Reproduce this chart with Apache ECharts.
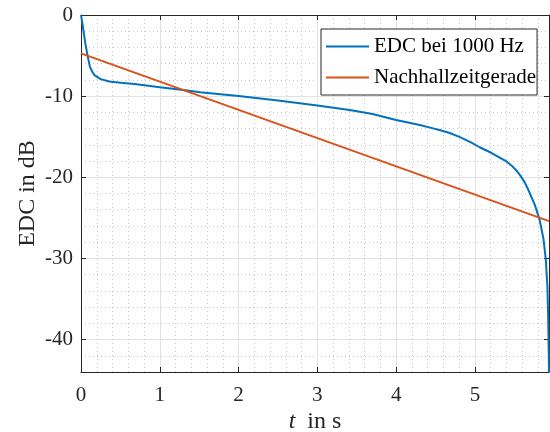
<!DOCTYPE html>
<html>
<head>
<meta charset="utf-8">
<script src="https://cdn.jsdelivr.net/npm/echarts@6/dist/echarts.min.js"></script>
<style>
  html, body { margin: 0; padding: 0; background: #ffffff; }
  #chart { width: 550px; height: 432px; }
</style>
</head>
<body>
<div id="chart"></div>
<script>
// Energy decay curve (Schroeder integration) at 1000 Hz
const timeS = [0, 0.01, 0.02, 0.03, 0.055, 0.085, 0.114, 0.14, 0.17, 0.25, 0.36, 0.5, 0.68,
  1.0, 1.3, 1.51, 2.0, 2.5, 3.0, 3.41, 3.7, 4.0, 4.3, 4.47, 4.56, 4.68, 4.81, 4.95, 5.06,
  5.2, 5.32, 5.4, 5.47, 5.52, 5.57, 5.63, 5.68, 5.76, 5.82, 5.87, 5.90, 5.92, 5.93, 5.935, 5.94];
const edcDb = [0, -0.6, -1.2, -1.85, -3.5, -5.1, -6.4, -6.95, -7.4, -7.9, -8.2, -8.35, -8.5,
  -8.9, -9.25, -9.53, -9.99, -10.55, -11.14, -11.7, -12.2, -12.95, -13.55, -13.97, -14.2,
  -14.55, -15.05, -15.7, -16.3, -16.95, -17.6, -18.05, -18.6, -19.1, -19.7, -20.6, -21.6,
  -23.4, -25.2, -27.6, -30.2, -33.5, -37.5, -40.5, -44];

// Regression line used for the reverberation time
const fitTimeS = [0, 5.94];
const fitDb = [-4.73, -25.4];

const seriesNames = ['EDC bei 1000 Hz', 'Nachhallzeitgerade'];
const xRange = [0, 5.94];
const yRange = [-44, 0];

const FONT = '"Liberation Serif", "DejaVu Serif", serif';
const INK = '#262626';
const MAJOR_GRID = '#e2e2e2';
const MINOR_GRID = '#c8c8c8';
const TICK_SIZE = 21;
const NAME_SIZE = 24;

const pairs = (xs, ys) => xs.map((x, i) => [x, ys[i]]);

const minorAxisCommon = {
  type: 'value',
  axisLine: { show: false },
  axisTick: { show: false },
  axisLabel: { show: false },
  splitLine: { show: true, lineStyle: { color: MINOR_GRID, width: 1, type: [1, 3] } }
};

const boxAxis = (extra) => Object.assign({
  type: 'value',
  axisLine: { show: true, onZero: false, lineStyle: { color: INK, width: 1 } },
  axisTick: { show: true, inside: true, length: 5, lineStyle: { color: INK } },
  axisLabel: { show: false },
  splitLine: { show: false }
}, extra);

const chart = echarts.init(document.getElementById('chart'), null, { renderer: 'canvas' });
chart.setOption({
  animation: false,
  backgroundColor: '#ffffff',
  grid: { left: 81, top: 15, width: 468, height: 357, containLabel: false, outerBoundsMode: 'none' },
  xAxis: [
    Object.assign({ min: xRange[0], max: xRange[1], interval: 0.2, position: 'bottom' }, minorAxisCommon),
    boxAxis({
      min: xRange[0], max: xRange[1], interval: 1, position: 'bottom',
      axisLabel: { show: true, showMaxLabel: false, margin: 13, color: INK, fontFamily: FONT, fontSize: TICK_SIZE },
      splitLine: { show: true, lineStyle: { color: MAJOR_GRID, width: 1 } },
      name: '{it|t}  in s',
      nameLocation: 'middle',
      nameGap: 38,
      nameMoveOverlap: false,
      nameTextStyle: {
        color: INK, fontFamily: FONT, fontSize: NAME_SIZE,
        rich: { it: { fontStyle: 'italic', fontFamily: FONT, fontSize: NAME_SIZE, color: INK } }
      }
    }),
    boxAxis({ min: xRange[0], max: xRange[1], interval: 1, position: 'top' })
  ],
  yAxis: [
    Object.assign({ min: yRange[0], max: yRange[1], interval: 2, position: 'left' }, minorAxisCommon),
    boxAxis({
      min: yRange[0], max: yRange[1], splitNumber: 5, position: 'left',
      axisLabel: { show: true, showMinLabel: false, margin: 8, color: INK, fontFamily: FONT, fontSize: TICK_SIZE },
      splitLine: { show: true, lineStyle: { color: MAJOR_GRID, width: 1 } },
      name: 'EDC in dB',
      nameLocation: 'middle',
      nameGap: 41,
      nameMoveOverlap: false,
      nameTextStyle: { color: INK, fontFamily: FONT, fontSize: NAME_SIZE }
    }),
    boxAxis({ min: yRange[0], max: yRange[1], splitNumber: 5, position: 'right' })
  ],
  legend: {
    orient: 'vertical',
    left: 321,
    top: 29,
    padding: [7, 1, 7, 4],
    itemWidth: 43,
    itemHeight: 14,
    itemGap: 10,
    itemStyle: { opacity: 0 },
    backgroundColor: '#ffffff',
    borderColor: INK,
    borderWidth: 1,
    textStyle: { color: '#000000', fontFamily: FONT, fontSize: TICK_SIZE },
    data: seriesNames
  },
  series: [
    {
      name: seriesNames[0], type: 'line', xAxisIndex: 1, yAxisIndex: 1,
      data: pairs(timeS, edcDb), symbol: 'none', smooth: false,
      lineStyle: { color: '#0072BD', width: 2 }, itemStyle: { color: '#0072BD' }, z: 5
    },
    {
      name: seriesNames[1], type: 'line', xAxisIndex: 1, yAxisIndex: 1,
      data: pairs(fitTimeS, fitDb), symbol: 'none',
      lineStyle: { color: '#D95319', width: 2 }, itemStyle: { color: '#D95319' }, z: 5
    }
  ]
});
</script>
</body>
</html>
